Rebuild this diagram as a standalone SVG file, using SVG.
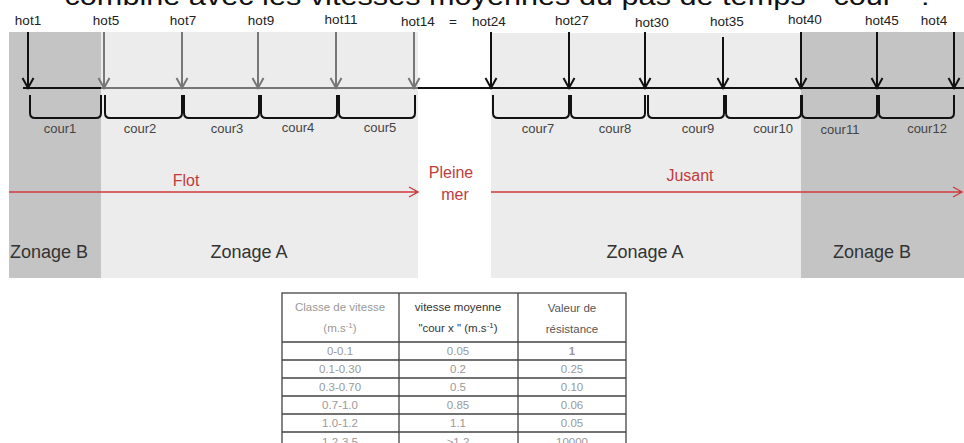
<svg xmlns="http://www.w3.org/2000/svg" width="964" height="443" viewBox="0 0 964 443">
<style>
text{font-family:"Liberation Sans",Arial,sans-serif}
.title{font-size:26px;fill:#111}
.hot{font-size:13.5px;fill:#222;text-anchor:middle}
.cour{font-size:13px;fill:#444;text-anchor:middle}
.zone{font-size:18px;fill:#333;text-anchor:middle}
.tide{font-size:16px;fill:#c23b3b;text-anchor:middle}
.ab{fill:none;stroke:#111;stroke-width:2}
.ag{fill:none;stroke:#777;stroke-width:2}
.br{fill:none;stroke:#111;stroke-width:2}
.red{fill:none;stroke:#cf3a3a;stroke-width:1.4}
.tl{stroke:#444;stroke-width:1.3;fill:none}
.th{font-size:11.5px;text-anchor:middle}
.td{font-size:11.5px;text-anchor:middle;fill:#999}
</style>
<rect width="964" height="443" fill="#fff"/>
<text class="title" x="497" y="5" text-anchor="middle" textLength="865" lengthAdjust="spacingAndGlyphs">combiné avec les vitesses moyennes du pas de temps " cour " :</text>
<g id="zones">
<rect x="9" y="32" width="92" height="246" fill="#c4c4c4"/>
<rect x="101" y="32" width="317" height="246" fill="#ececec"/>
<rect x="491" y="33" width="310" height="245" fill="#ececec"/>
<rect x="801" y="32" width="163" height="246" fill="#c4c4c4"/>
<text class="zone" x="49" y="258">Zonage B</text>
<text class="zone" x="249" y="258">Zonage A</text>
<text class="zone" x="645" y="258">Zonage A</text>
<text class="zone" x="872" y="258">Zonage B</text>
</g>
<g id="axis">
<line x1="23" y1="88" x2="101" y2="88" stroke="#111" stroke-width="2"/>
<line x1="101" y1="88" x2="418" y2="88" stroke="#777" stroke-width="2"/>
<line x1="418" y1="88" x2="964" y2="88" stroke="#111" stroke-width="2"/>
</g>
<g id="labels">
<text class="hot" x="28" y="25">hot1</text>
<text class="hot" x="106" y="25">hot5</text>
<text class="hot" x="183" y="25">hot7</text>
<text class="hot" x="261" y="25">hot9</text>
<text class="hot" x="341" y="24">hot11</text>
<text class="hot" x="418" y="26">hot14</text>
<text class="hot" x="453" y="26">=</text>
<text class="hot" x="489" y="26">hot24</text>
<text class="hot" x="572" y="25">hot27</text>
<text class="hot" x="652" y="27">hot30</text>
<text class="hot" x="727" y="26">hot35</text>
<text class="hot" x="805" y="24">hot40</text>
<text class="hot" x="882" y="25">hot45</text>
<text class="hot" x="934" y="25" text-anchor="start">hot4</text>
</g>
<g id="connectors">
<path class="ab" d="M28 32V88M22.5 78L28 88L33.5 78"/>
<path class="ag" d="M104 32V88M98.5 78L104 88L109.5 78"/>
<path class="ag" d="M182 32V88M176.5 78L182 88L187.5 78"/>
<path class="ag" d="M258 32V88M252.5 78L258 88L263.5 78"/>
<path class="ag" d="M336 32V88M330.5 78L336 88L341.5 78"/>
<path class="ag" d="M414 32V88M408.5 78L414 88L419.5 78"/>
<path class="ab" d="M491 32V88M485.5 78L491 88L496.5 78"/>
<path class="ab" d="M569 32V88M563.5 78L569 88L574.5 78"/>
<path class="ab" d="M645 32V88M639.5 78L645 88L650.5 78"/>
<path class="ab" d="M723 37V88M717.5 78L723 88L728.5 78"/>
<path class="ab" d="M801 32V88M795.5 78L801 88L806.5 78"/>
<path class="ab" d="M877 32V88M871.5 78L877 88L882.5 78"/>
<path class="ab" d="M954 32V88M948.5 78L954 88L959.5 78"/>
<path class="red" d="M9 192H418M409 187L418 192L409 197"/>
<path class="red" d="M491 192H962M953 187L962 192L953 197"/>
</g>
<g id="brackets">
<path class="br" d="M30 95V113Q30 118 35 118H96Q101 118 101 113V95"/>
<path class="br" d="M105 95V113Q105 118 110 118H177Q182 118 182 113V95"/>
<path class="br" d="M184 95V113Q184 118 189 118H254Q259 118 259 113V95"/>
<path class="br" d="M261 95V113Q261 118 266 118H332Q337 118 337 113V95"/>
<path class="br" d="M339 95V113Q339 118 344 118H410Q415 118 415 113V95"/>
<path class="br" d="M493 95V113Q493 118 498 118H564Q569 118 569 113V95"/>
<path class="br" d="M571 95V113Q571 118 576 118H640Q645 118 645 113V95"/>
<path class="br" d="M648 95V113Q648 118 653 118H719Q724 118 724 113V95"/>
<path class="br" d="M726 95V113Q726 118 731 118H796Q801 118 801 113V95"/>
<path class="br" d="M802 95V113Q802 118 807 118H872Q877 118 877 113V95"/>
<path class="br" d="M879 95V113Q879 118 884 118H949Q954 118 954 113V95"/>
<text class="cour" x="60" y="133">cour1</text>
<text class="cour" x="140" y="133">cour2</text>
<text class="cour" x="227" y="133">cour3</text>
<text class="cour" x="298" y="132">cour4</text>
<text class="cour" x="380" y="132">cour5</text>
<text class="cour" x="538" y="133">cour7</text>
<text class="cour" x="615" y="133">cour8</text>
<text class="cour" x="698" y="133">cour9</text>
<text class="cour" x="773" y="133">cour10</text>
<text class="cour" x="840" y="134">cour11</text>
<text class="cour" x="927" y="133">cour12</text>
</g>
<g id="tide">
<text class="tide" x="186" y="186">Flot</text>
<text class="tide" x="451" y="178">Pleine</text>
<text class="tide" x="455" y="200">mer</text>
<text class="tide" x="690" y="181">Jusant</text>
</g>
<g id="table">
<rect class="tl" x="282" y="293" width="344" height="160"/>
<path class="tl" d="M399 293V443M518 293V443M282 342H626M282 360H626M282 378H626M282 396H626M282 414H626M282 432H626"/>
<text class="th" x="340" y="311" fill="#999">Classe de vitesse</text>
<text class="th" x="340" y="332" fill="#999">(m.s<tspan dy="-4" font-size="8">-1</tspan><tspan dy="4">)</tspan></text>
<text class="th" x="458" y="311" fill="#333">vitesse moyenne</text>
<text class="th" x="458" y="332" fill="#333">"cour x " (m.s<tspan dy="-4" font-size="8">-1</tspan><tspan dy="4">)</tspan></text>
<text class="th" x="572" y="312" fill="#555">Valeur de</text>
<text class="th" x="572" y="333" fill="#555">résistance</text>
<text class="td" x="340" y="355">0-0.1</text><text class="td" x="458" y="355">0.05</text><text class="td" x="572" y="355" fill="#222" font-weight="bold">1</text>
<text class="td" x="340" y="373">0.1-0.30</text><text class="td" x="458" y="373">0.2</text><text class="td" x="572" y="373">0.25</text>
<text class="td" x="340" y="391">0.3-0.70</text><text class="td" x="458" y="391">0.5</text><text class="td" x="572" y="391">0.10</text>
<text class="td" x="340" y="409">0.7-1.0</text><text class="td" x="458" y="409">0.85</text><text class="td" x="572" y="409">0.06</text>
<text class="td" x="340" y="427">1.0-1.2</text><text class="td" x="458" y="427">1.1</text><text class="td" x="572" y="427">0.05</text>
<text class="td" x="340" y="446">1.2-3.5</text><text class="td" x="458" y="446">&gt;1.2</text><text class="td" x="572" y="446">10000</text>
</g>
</svg>
